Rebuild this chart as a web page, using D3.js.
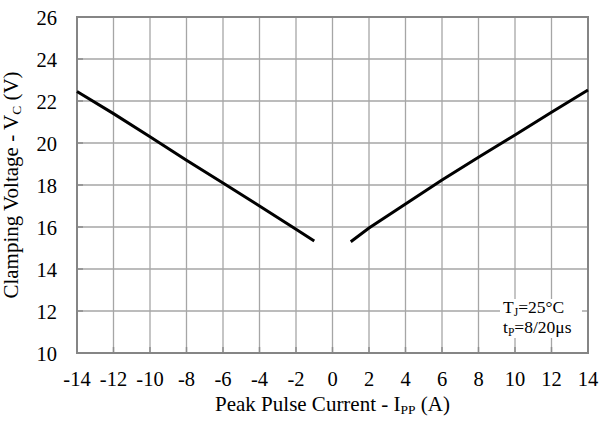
<!DOCTYPE html>
<html>
<head>
<meta charset="utf-8">
<script src="https://cdn.jsdelivr.net/npm/d3@7"></script>
<style>
  body { margin: 0; background: #fff; }
</style>
</head>
<body>
<div id="chart"></div>
<script>
const xTicks = [-14, -12, -10, -8, -6, -4, -2, 0, 2, 4, 6, 8, 10, 12, 14];
const yTicks = [10, 12, 14, 16, 18, 20, 22, 24, 26];

const negCurrent = [-14, -12, -10, -8, -6, -4, -2, -1];
const negVoltage = [22.45, 21.4, 20.3, 19.18, 18.1, 17.0, 15.89, 15.33];

const posCurrent = [1, 2, 4, 6, 8, 10, 12, 14];
const posVoltage = [15.3, 15.95, 17.1, 18.24, 19.32, 20.38, 21.46, 22.52];

const noteLines = ["T", "t"];

const FONT = "Liberation Serif";
const width = 600, height = 421;
const margin = { top: 17, right: 12, bottom: 68, left: 77 };

const svg = d3.select("#chart").append("svg")
  .attr("width", width)
  .attr("height", height);

const x = d3.scaleLinear().domain([-14, 14]).range([margin.left, width - margin.right]);
const y = d3.scaleLinear().domain([10, 26]).range([height - margin.bottom, margin.top]);

// grid
svg.append("g")
  .selectAll("line")
  .data(xTicks)
  .join("line")
  .attr("x1", d => x(d)).attr("x2", d => x(d))
  .attr("y1", y(26)).attr("y2", y(10))
  .attr("stroke", "#a6a6a6")
  .attr("stroke-width", 1.3);

svg.append("g")
  .selectAll("line")
  .data(yTicks)
  .join("line")
  .attr("x1", x(-14)).attr("x2", x(14))
  .attr("y1", d => y(d)).attr("y2", d => y(d))
  .attr("stroke", "#a6a6a6")
  .attr("stroke-width", 1.3);

// small inner ticks
svg.append("g")
  .selectAll("line")
  .data(yTicks)
  .join("line")
  .attr("x1", x(-14)).attr("x2", x(-14) + 6)
  .attr("y1", d => y(d)).attr("y2", d => y(d))
  .attr("stroke", "#8c8c8c")
  .attr("stroke-width", 1.5);

svg.append("g")
  .selectAll("line")
  .data(xTicks)
  .join("line")
  .attr("x1", d => x(d)).attr("x2", d => x(d))
  .attr("y1", y(10)).attr("y2", y(10) - 6)
  .attr("stroke", "#8c8c8c")
  .attr("stroke-width", 1.5);

// annotation box (white background over grid)
svg.append("rect")
  .attr("x", 500).attr("y", 299)
  .attr("width", 82).attr("height", 39)
  .attr("fill", "#fff");

// frame
svg.append("rect")
  .attr("x", x(-14)).attr("y", y(26))
  .attr("width", x(14) - x(-14))
  .attr("height", y(10) - y(26))
  .attr("fill", "none")
  .attr("stroke", "#858585")
  .attr("stroke-width", 2);

// tick labels
svg.append("g")
  .selectAll("text")
  .data(yTicks)
  .join("text")
  .attr("x", 57)
  .attr("y", d => y(d) + 1)
  .attr("dy", "0.35em")
  .attr("text-anchor", "end")
  .attr("font-family", FONT)
  .attr("font-size", 20.5)
  .text(d => d);

svg.append("g")
  .selectAll("text")
  .data(xTicks)
  .join("text")
  .attr("x", d => x(d))
  .attr("y", 379)
  .attr("dy", "0.35em")
  .attr("text-anchor", "middle")
  .attr("font-family", FONT)
  .attr("font-size", 20.5)
  .text(d => d);

// axis titles
const xt = svg.append("text")
  .attr("x", (x(-14) + x(14)) / 2)
  .attr("y", 411)
  .attr("text-anchor", "middle")
  .attr("font-family", FONT)
  .attr("font-size", 21);
xt.append("tspan").text("Peak Pulse Current - I");
xt.append("tspan").attr("dy", 3).attr("font-size", 13.5).text("PP");
xt.append("tspan").attr("dy", -3).text(" (A)");

const yt = svg.append("text")
  .attr("transform", `translate(18,${(y(10) + y(26)) / 2}) rotate(-90)`)
  .attr("text-anchor", "middle")
  .attr("font-family", FONT)
  .attr("font-size", 21);
yt.append("tspan").text("Clamping Voltage - V");
yt.append("tspan").attr("dy", 3).attr("font-size", 13.5).text("C");
yt.append("tspan").attr("dy", -3).text(" (V)");

// curves
const line = d3.line().x(d => x(d[0])).y(d => y(d[1]));

svg.append("path")
  .datum(d3.zip(negCurrent, negVoltage))
  .attr("d", line)
  .attr("fill", "none")
  .attr("stroke", "#000")
  .attr("stroke-width", 3);

svg.append("path")
  .datum(d3.zip(posCurrent, posVoltage))
  .attr("d", line)
  .attr("fill", "none")
  .attr("stroke", "#000")
  .attr("stroke-width", 3);

// note
const n1 = svg.append("text").attr("x", 503).attr("y", 313)
  .attr("font-family", FONT).attr("font-size", 17.5);
n1.append("tspan").text(noteLines[0]);
n1.append("tspan").attr("dy", 3).attr("font-size", 11.5).text("J");
n1.append("tspan").attr("dy", -3).text("=25°C");

const n2 = svg.append("text").attr("x", 503).attr("y", 333)
  .attr("font-family", FONT).attr("font-size", 17.5);
n2.append("tspan").text(noteLines[1]);
n2.append("tspan").attr("dy", 3).attr("font-size", 11.5).text("P");
n2.append("tspan").attr("dy", -3).text("=8/20μs");
</script>
</body>
</html>
